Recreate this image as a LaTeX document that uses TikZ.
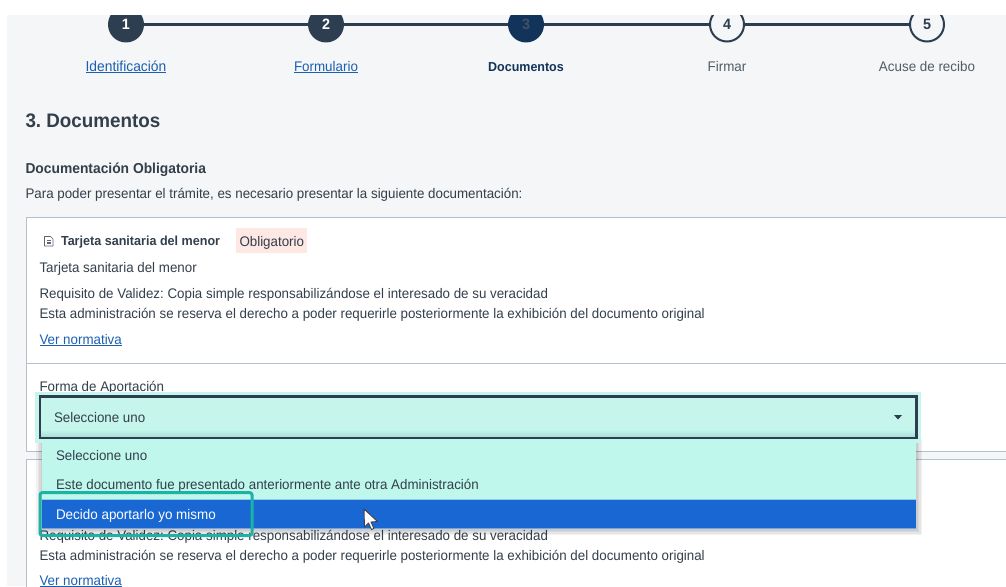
\documentclass[tikz,border=0pt]{standalone}
\usepackage{fontspec}
\setmainfont[FakeStretch=0.96]{Liberation Sans}
\definecolor{pagebg}{HTML}{F4F6F8}
\definecolor{ink}{HTML}{333F4B}
\definecolor{stepdark}{HTML}{2C3E50}
\definecolor{stepcur}{HTML}{12335A}
\definecolor{linkc}{HTML}{1B5FB0}
\definecolor{cardline}{HTML}{B4C0CE}
\definecolor{mint}{HTML}{BFF7EC}
\definecolor{glow}{HTML}{C6F5EB}
\definecolor{hl}{HTML}{1967D2}
\definecolor{teal}{HTML}{1DB3A4}
\definecolor{badge}{HTML}{FDE8E3}
\newcommand{\fs}[1]{\fontsize{#1}{#1}\selectfont\frenchspacing}
\tikzset{
  x=1pt,y=-1pt,
  txt/.style={anchor=base west,inner sep=0pt,outer sep=0pt,text=ink,font=\fs{13.9}},
  lbl/.style={anchor=base,inner sep=0pt,outer sep=0pt,text=ink,font=\fs{13.95}},
  lnk/.style={txt,text=linkc},
  stepdone/.style={circle,minimum size=36pt,inner sep=0pt,fill=stepdark,text=white,font=\fs{15}\bfseries},
  stepnow/.style={circle,minimum size=36pt,inner sep=0pt,fill=stepcur,text=stepdark!90!white,font=\fs{15}\bfseries},
  stepnext/.style={circle,minimum size=34pt,inner sep=0pt,fill=pagebg,draw=stepdark,line width=2pt,text=stepdark,font=\fs{15}\bfseries},
  steplink/.style={draw=stepdark,line width=2.4pt},
  cardbox/.style={fill=white,draw=cardline,line width=.8pt},
}
\begin{document}
\begin{tikzpicture}
\useasboundingbox (0,0) rectangle (1006,586);
\fill[white] (0,0) rectangle (1006,586);
\fill[pagebg] (7,15) rectangle (1006,586);
% stepper
\node[stepdone] (s1) at (126,24.5) {1};
\node[stepdone] (s2) at (326,24.5) {2};
\node[stepnow] (s3) at (526,24.5) {3};
\node[stepnext] (s4) at (727,24.5) {4};
\node[stepnext] (s5) at (927,24.5) {5};
\draw[steplink] (s1) -- (s2);
\draw[steplink] (s2) -- (s3);
\draw[steplink] (s3) -- (s4);
\draw[steplink] (s4) -- (s5);
\fill[white] (0,0) rectangle (1006,15);
\node[lbl,text=linkc,font=\fs{14.4}] (l1) at (126,71) {\underline{Identificación}};
\node[lbl,text=linkc] (l2) at (326,71) {\underline{Formulario}};
\node[lbl,text=stepcur,font=\fs{13}\bfseries] (l3) at (526,71) {Documentos};
\node[lbl,text=ink!85!white] (l4) at (727,71) {Firmar};
\node[lbl,text=ink!85!white] (l5) at (927,71) {Acuse de recibo};
% headings
\node[txt,font=\fs{19.6}\bfseries] (h1) at (25.5,127) {3. Documentos};
\node[txt,font=\fs{14.4}\bfseries] (h2) at (25.5,173.5) {Documentación Obligatoria};
\node[txt] (p1) at (25.5,198) {Para poder presentar el trámite, es necesario presentar la siguiente documentación:};
% cards
\path[cardbox] (26.5,217) rectangle (1010,451);
\path[cardbox] (26.5,459) rectangle (1010,600);
\draw[cardline,line width=1pt] (26.5,363) -- (1010,363);
% badge
\fill[badge] (236,228) rectangle (307,252.5);
% doc icon
\draw[ink!80!white,line width=.7pt,line join=round] (44.5,236.5) -- (50.5,236.5) -- (53,239) -- (53,246) -- (44.5,246) -- cycle;
\draw[ink!80!white,line width=.5pt] (46.5,240) -- (51,240) (46.5,241.8) -- (51,241.8) (46.5,243.6) -- (51,243.6);
\node[txt,font=\fs{13.1}\bfseries] (t1) at (61,245) {Tarjeta sanitaria del menor};
\node[txt] (b1) at (239.5,246.5) {Obligatorio};
\node[txt] (t2) at (39.5,272) {Tarjeta sanitaria del menor};
\node[txt] (t3) at (39.5,298) {Requisito de Validez: Copia simple responsabilizándose el interesado de su veracidad};
\node[txt] (t4) at (39.5,318) {Esta administración se reserva el derecho a poder requerirle posteriormente la exhibición del documento original};
\node[lnk] (t5) at (39.5,344) {\underline{Ver normativa}};
\node[txt] (f1) at (39.5,391) {Forma de Aportación};
% second card text (partly behind the list)
\node[txt] (t6) at (39.5,540) {Requisito de Validez: Copia simple responsabilizándose el interesado de su veracidad};
\node[txt] (t7) at (39.5,560) {Esta administración se reserva el derecho a poder requerirle posteriormente la exhibición del documento original};
\node[lnk] (t8) at (39.5,585) {\underline{Ver normativa}};
% drop list shadow
\foreach \d in {6,4.5,3,1.5}{
  \fill[black,opacity=.05] (42-\d,439) rectangle (916+\d,529+\d);
}
% select
\fill[glow] (35,392) rectangle (921,442.5);
\fill[mint] (42,439) rectangle (916,529);
\fill[hl] (42,499) rectangle (916,528.5);
\draw[hl!60!white,line width=.6pt] (42,528.5) -- (916,528.5);
\draw[mint!70!hl,line width=.6pt] (42,499) -- (916,499);
\path[shade,top color=mint,bottom color=mint!88!black] (40,430) rectangle (916,438);
\draw[stepdark,line width=2.6pt] (40,396.5) rectangle (916.5,438);
\node[txt] (o0) at (54,422) {Seleccione uno};
\fill[stepdark] (894,415) -- (902,415) -- (898,419.5) -- cycle;
\node[txt] (o1) at (56,460) {Seleccione uno};
\node[txt] (o2) at (56,489.5) {Este documento fue presentado anteriormente ante otra Administración};
\node[txt,text=white,font=\fs{14}] (o3) at (56,519.5) {Decido aportarlo yo mismo};
% highlight
\draw[teal,line width=3pt,rounded corners=2.5pt] (40,492.5) rectangle (252,535.5);
% cursor
\draw[black!75,fill=white,line width=.9pt,line join=round] (364,509) -- (364.5,527) -- (368.5,523) -- (371.5,529.5) -- (374,528.5) -- (371,522) -- (377.5,521.5) -- cycle;
\end{tikzpicture}
\end{document}
